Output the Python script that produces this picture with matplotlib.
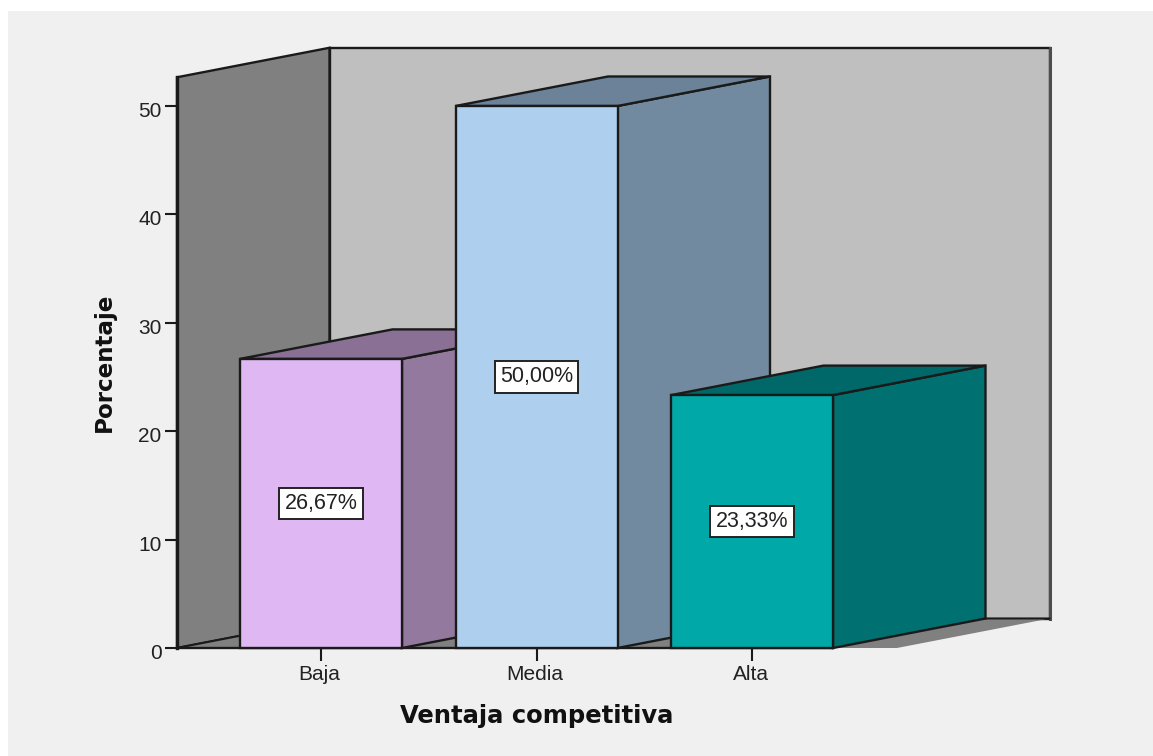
import matplotlib
matplotlib.use('Agg')
import matplotlib.pyplot as plt
from matplotlib.patches import Polygon, Rectangle
from matplotlib.transforms import ScaledTranslation

categories = ['Baja', 'Media', 'Alta']
percentages = [26.67, 50.00, 23.33]
value_labels = ['26,67%', '50,00%', '23,33%']
y_ticks = [0, 10, 20, 30, 40, 50]
front_colors = ['#dfb8f3', '#aecfee', '#00a8a8']
side_colors = ['#94799e', '#728a9f', '#007070']
top_colors = ['#8a7095', '#6b8299', '#006868']

W, H = 1153, 756
# pixel layout of the plot box
left, right, base, unit = 177, 897, 648, 10.84
cat0, spacing = 321, 215.5

EDGE = '#1a1a1a'
BAR_W = 162 / spacing
DX = 152.5 / spacing
DY = 29.5 / unit
Y_TOP = 52.65


def poly(ax, pts, color, z, lw=1.7, edge=EDGE):
    ax.add_patch(Polygon(pts, closed=True, facecolor=color, edgecolor=edge,
                         linewidth=lw, joinstyle='miter', zorder=z, clip_on=False))


def draw_bar(ax, x, h, front, side, top, z):
    x0, x1 = x - BAR_W / 2, x + BAR_W / 2
    poly(ax, [(x1, 0), (x1 + DX, DY), (x1 + DX, h + DY), (x1, h)], side, z)
    poly(ax, [(x0, h), (x1, h), (x1 + DX, h + DY), (x0 + DX, h + DY)], top, z)
    poly(ax, [(x0, 0), (x1, 0), (x1, h), (x0, h)], front, z)


fig = plt.figure(figsize=(W / 100, H / 100), dpi=100, facecolor='white')
fig.add_artist(Rectangle((8 / W, 0), 1 - 8 / W, 1 - 11 / H, transform=fig.transFigure,
                         facecolor='#f0f0f0', edgecolor='none', zorder=-5))

ax = fig.add_axes([left / W, 1 - base / H, (right - left) / W, Y_TOP * unit / H])
ax.patch.set_visible(False)
ax.set_xlim((left - cat0) / spacing, (right - cat0) / spacing)
ax.set_ylim(0, Y_TOP)
xa, xb = ax.get_xlim()

# back wall, side wall, floor
poly(ax, [(xa + DX, DY), (xb + DX, DY), (xb + DX, Y_TOP + DY), (xa + DX, Y_TOP + DY)], '#bfbfbf', 1)
ax.plot([xb + DX, xb + DX], [DY, Y_TOP + DY], color='#4d4d4d', lw=2.2, zorder=1.2, clip_on=False)
poly(ax, [(xa, 0), (xa + DX, DY), (xa + DX, Y_TOP + DY), (xa, Y_TOP)], '#808080', 1.5)
poly(ax, [(xa, 0), (xb, 0), (xb + DX, DY), (xa + DX, DY)], '#808080', 2, lw=0, edge='none')
ax.plot([xa, xa + DX, xb + DX], [0, DY, DY], color=EDGE, lw=1.4, zorder=2.1, clip_on=False)
# baseline stops at the last bar, the floor runs on past it
ax.plot([xa, len(categories) - 1 + BAR_W / 2], [0, 0], color=EDGE, lw=1.7, zorder=2.2, clip_on=False)

for i, h in enumerate(percentages):
    draw_bar(ax, i, h, front_colors[i], side_colors[i], top_colors[i], 3 + i)
    ax.text(i, h / 2, value_labels[i], ha='center', va='center', fontsize=15.5,
            family='Liberation Sans', color='#222222', zorder=10,
            bbox=dict(boxstyle='square,pad=0.25', facecolor='white', edgecolor='#222222', linewidth=1.4))

for s in ['top', 'right', 'bottom']:
    ax.spines[s].set_visible(False)
ax.spines['left'].set_linewidth(2.4)
ax.spines['left'].set_color(EDGE)
ax.spines['left'].set_zorder(2.5)

ax.set_xticks(range(len(categories)))
ax.set_xticklabels(categories, family='Liberation Sans', fontsize=15, color='#222222')
ax.set_yticks(y_ticks)
ax.set_yticklabels([str(v) for v in y_ticks], family='Liberation Sans', fontsize=15, color='#222222')
ax.tick_params(axis='x', length=9, width=1.5, color=EDGE, pad=3)
ax.tick_params(axis='y', length=9, width=1.5, color=EDGE, pad=2)

# tick labels sit a little off their ticks
for label in ax.get_xticklabels():
    label.set_transform(label.get_transform() + ScaledTranslation(-1.5 / 100, 0, fig.dpi_scale_trans))
for label in ax.get_yticklabels():
    label.set_transform(label.get_transform() + ScaledTranslation(0, -3.5 / 100, fig.dpi_scale_trans))

fig.text(536.5 / W, 1 - 716 / H, 'Ventaja competitiva', ha='center', va='center',
         fontsize=17.5, fontweight='bold', family='DejaVu Sans', color='#111111')
fig.text(104 / W, 1 - 362 / H, 'Porcentaje', ha='center', va='center', rotation=90,
         fontsize=16.6, fontweight='bold', family='DejaVu Sans', color='#111111')

fig.savefig('out.png', dpi=100, facecolor=fig.get_facecolor())
